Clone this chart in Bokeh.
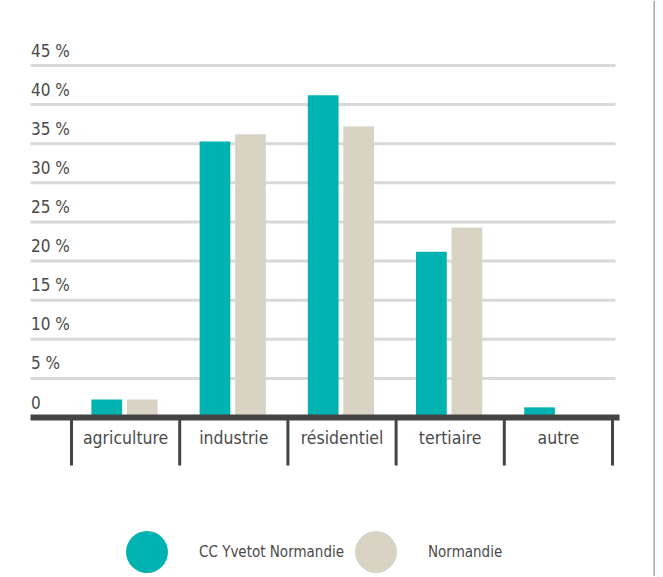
import numpy as np
from bokeh.plotting import figure
from bokeh.models import ColumnDataSource, Legend, LegendItem, Span
from bokeh.core.properties import value
from bokeh.embed import file_html
from bokeh.resources import INLINE

# ---- data ----
categories = ["agriculture", "industrie", "résidentiel", "tertiaire", "autre"]
cc_yvetot = [2.3, 35.3, 41.2, 21.2, 1.3]
normandie = [2.3, 36.2, 37.2, 24.3, 0.0]
y_ticks = [0, 5, 10, 15, 20, 25, 30, 35, 40, 45]
y_tick_labels = ["0" if t == 0 else f"{t} %" for t in y_ticks]
series_names = ["CC Yvetot Normandie", "Normandie"]

# ---- style ----
TEAL = "#00b2b0"
BEIGE = "#d9d3c6"
DARK = "#444444"
TXT = "#4a4a4a"
FONT_NAME = "DejaVu Sans Condensed"
FONT = value(FONT_NAME)

X0, X1 = -0.6562, 5.3974
Y0, Y1 = -20.327, 53.31
GRID_L, GRID_R, BASE_R = -0.379, 5.028, 5.065
SEP_BOTTOM = -6.14
BAR_W = 0.284
OFF_CC, OFF_N = -0.174, 0.154

p = figure(width=655, height=576, x_range=(X0, X1), y_range=(Y0, Y1),
           output_backend="svg", toolbar_location=None,
           x_axis_location=None, y_axis_location=None, min_border=0)
p.grid.visible = False
p.outline_line_color = None
p.background_fill_color = "white"
p.border_fill_color = "white"

n = len(categories)
idx = np.arange(n) + 0.5

# gridlines (from tick values)
gt = [t for t in y_ticks if t > 0]
p.segment(x0=[GRID_L] * len(gt), x1=[GRID_R] * len(gt), y0=gt, y1=gt,
          line_color="#d9d9d9", line_width=3)

# bars
src = ColumnDataSource(dict(x_cc=idx + OFF_CC, x_n=idx + OFF_N,
                            cc=cc_yvetot, n=normandie))
p.vbar(x="x_cc", top="cc", bottom=0, width=BAR_W, source=src,
       fill_color=TEAL, line_color=None)
p.vbar(x="x_n", top="n", bottom=0, width=BAR_W, source=src,
       fill_color=BEIGE, line_color=None)

# baseline and category separators
p.segment(x0=[GRID_L], x1=[BASE_R], y0=[0], y1=[0], line_color=DARK, line_width=6)
seps = list(range(n + 1))
p.segment(x0=seps, x1=seps, y0=[0] * len(seps), y1=[SEP_BOTTOM] * len(seps),
          line_color=DARK, line_width=3)

# y tick labels above gridlines
p.text(x=[GRID_L + 0.005] * len(y_ticks), y=y_ticks, text=y_tick_labels,
       text_font=FONT, text_font_size="17px", text_color=TXT,
       text_align="left", text_baseline="middle", y_offset=-15)

# category labels
p.text(x=idx, y=[0] * n, text=categories, text_font=FONT,
       text_font_size="17.5px", text_color=TXT, text_align="center",
       text_baseline="middle", y_offset=21)

# right border line
p.add_layout(Span(location=5.388, dimension="height", line_color="#aaaaaa",
                  line_width=2))

# legend (circles): renderers hold one off-screen point so the legend can draw them
r1 = p.scatter(x=[np.nan], y=[np.nan], marker="circle", size=42,
               fill_color=TEAL, line_color=None)
r2 = p.scatter(x=[np.nan], y=[np.nan], marker="circle", size=42,
               fill_color=BEIGE, line_color=None)
common = dict(orientation="horizontal", glyph_width=105, glyph_height=105,
              label_standoff=0, padding=0, margin=0,
              border_line_color=None, background_fill_alpha=0,
              label_text_font=FONT_NAME, label_text_font_size="15px",
              label_text_color=TXT)
legend1 = Legend(items=[LegendItem(label=series_names[0], renderers=[r1])],
                 location=(94, -28), **common)
legend2 = Legend(items=[LegendItem(label=series_names[1], renderers=[r2])],
                 location=(323, -28), **common)
p.add_layout(legend1)
p.add_layout(legend2)

open("out.html", "w").write(file_html(p, INLINE))
